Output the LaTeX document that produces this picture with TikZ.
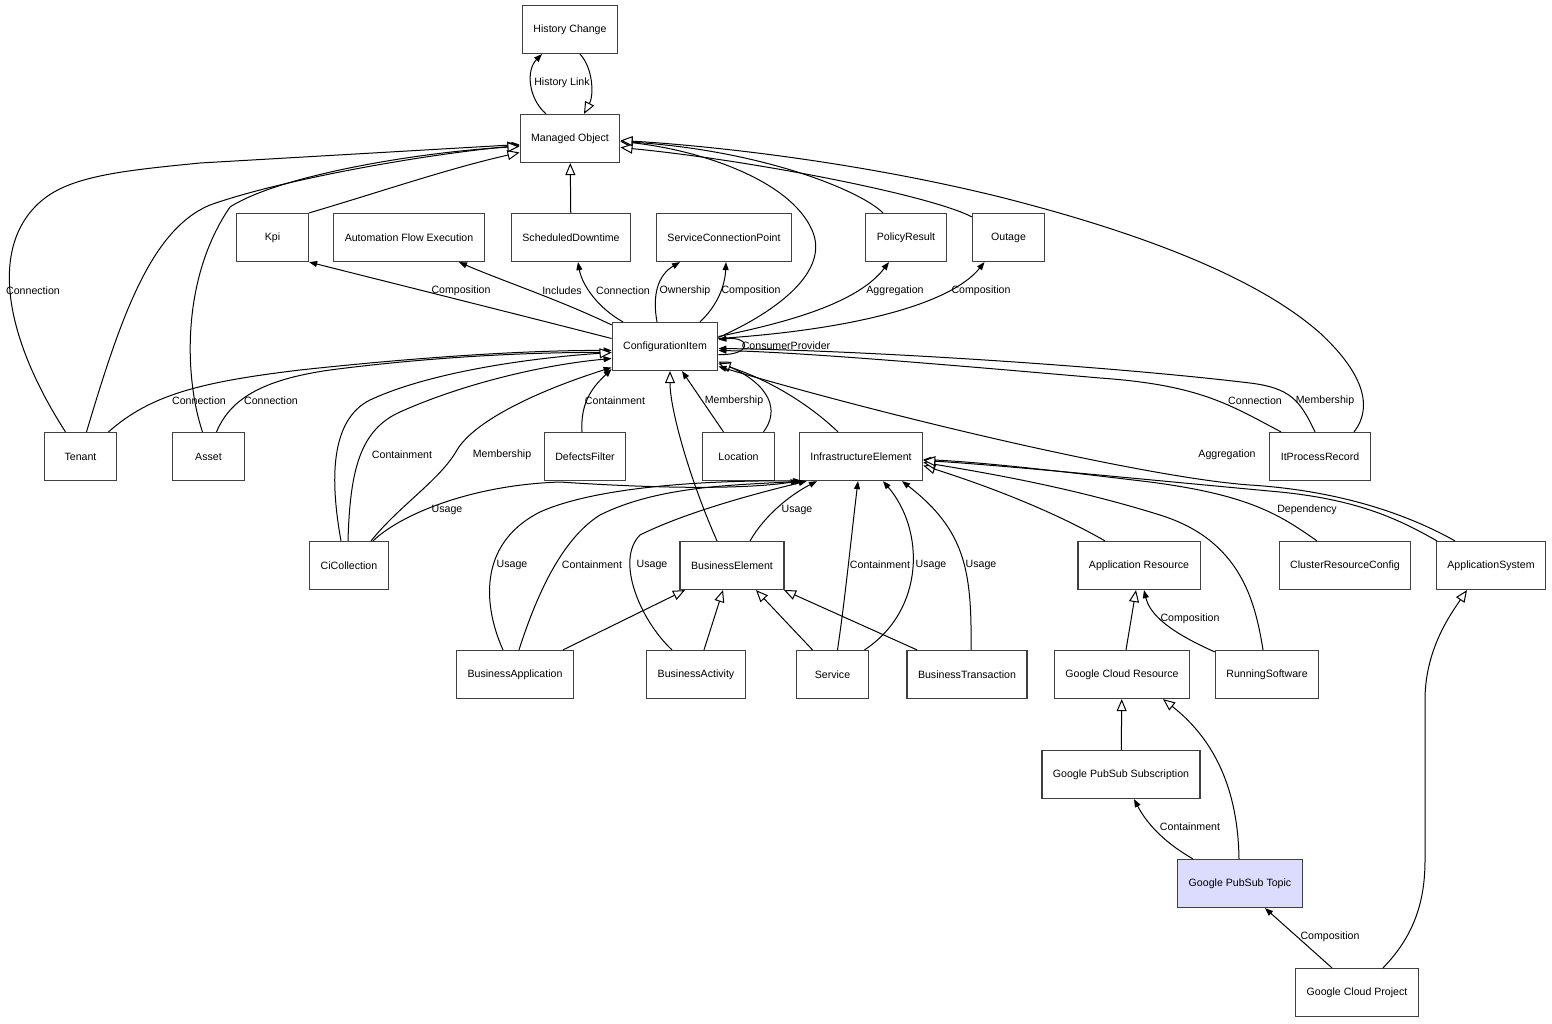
\documentclass[tikz,border=0pt]{standalone}
\usepackage{fontspec}
\setmainfont{Liberation Sans}
\usepackage{tikz}
\usetikzlibrary{arrows.meta}
\definecolor{topicfill}{RGB}{220,220,254}
\tikzstyle{block} = [rectangle, draw=black!75, line width=1.2pt, 
    minimum width=72pt, minimum height=48pt, inner xsep=11pt, font=\fontsize{10.6}{12}\selectfont]
\tikzstyle{lbl} = [inner sep=1pt, font=\fontsize{10.6}{12}\selectfont]
\tikzstyle{assoc} = [draw, line width=1pt, -{Triangle[length=8pt,width=6pt]}]
\tikzstyle{inherit} = [draw, line width=1pt, -{Triangle[length=12pt,width=10pt,fill=white]}]

\begin{document}
\begin{tikzpicture}[x=1pt,y=-1pt]
    \useasboundingbox (0,0) rectangle (1552,1023);
    % Place nodes
    \node [block] (hc) at (570,29.5) {History Change};
    \node [block] (mo) at (570,138.5) {Managed Object};
    \node [block] (kpi) at (272.5,237.5) {Kpi};
    \node [block] (afe) at (409,237.5) {Automation Flow Execution};
    \node [block] (sd) at (571,237.5) {ScheduledDowntime};
    \node [block] (scp) at (724,237.5) {ServiceConnectionPoint};
    \node [block] (pr) at (906,237.5) {PolicyResult};
    \node [block] (outage) at (1008.5,237.5) {Outage};
    \node [block] (ci) at (665,346.5) {ConfigurationItem};
    \node [block] (tenant) at (80.5,456.5) {Tenant};
    \node [block] (asset) at (208.5,456.5) {Asset};
    \node [block] (df) at (585,456.5) {DefectsFilter};
    \node [block] (loc) at (738.5,456.5) {Location};
    \node [block] (ie) at (861,456.5) {InfrastructureElement};
    \node [block] (ipr) at (1320,456.5) {ItProcessRecord};
    \node [block] (cic) at (349,565.5) {CiCollection};
    \node [block] (be) at (732,565.5) {BusinessElement};
    \node [block] (ar) at (1139,565.5) {Application Resource};
    \node [block] (crc) at (1345,565.5) {ClusterResourceConfig};
    \node [block] (appsys) at (1491,565.5) {ApplicationSystem};
    \node [block] (ba) at (515,674.5) {BusinessApplication};
    \node [block] (bact) at (696,674.5) {BusinessActivity};
    \node [block] (svc) at (832.5,674.5) {Service};
    \node [block] (bt) at (967,674.5) {BusinessTransaction};
    \node [block] (gcr) at (1122,674.5) {Google Cloud Resource};
    \node [block] (rs) at (1267,674.5) {RunningSoftware};
    \node [block] (gpss) at (1121,774.5) {Google PubSub Subscription};
    \node [block, fill=topicfill] (gpst) at (1240,883.5) {Google PubSub Topic};
    \node [block] (gcp) at (1357,992.5) {Google Cloud Project};
    % Draw edges round Managed Object
    \path [assoc] ([xshift=-24pt]mo.north) .. controls (528,98) and (526,70) .. ([xshift=-28pt]hc.south)
        node [lbl] (lHist) at (562,83) {History Link};
    \path [inherit] ([xshift=10pt]hc.south) .. controls (593,68) and (594,95) .. ([xshift=14pt]mo.north);
    \path [inherit] (sd) -- (mo);
    \path [inherit] (kpi.north east) .. controls (380,192) and (450,168) .. ([yshift=-14pt]mo.west);
    \path [assoc] ([xshift=-15pt]tenant.north) .. controls (0,330) and (-10,240) .. (45,198)
        .. controls (75,175) and (130,170) .. (200,163) -- ([yshift=-6pt]mo.west)
        node [lbl] (lConnTen) at (33,291) {Connection};
    \path [inherit] ([xshift=6pt]tenant.north) .. controls (120,320) and (150,230) .. (210,205)
        .. controls (280,180) and (420,155) .. ([yshift=-7pt]mo.west);
    \path [inherit] ([xshift=-6pt]asset.north) .. controls (185,380) and (180,280) .. (230,207)
        .. controls (280,175) and (420,152) .. ([yshift=-8pt]mo.west);
    \path [inherit] ([yshift=9pt]ci.east) .. controls (780,310) and (830,270) .. (812,230)
        .. controls (790,180) and (700,150) .. ([yshift=-3pt]mo.east);
    \path [inherit] ([xshift=-23pt]pr.north) .. controls (860,190) and (760,150) .. ([yshift=-3pt]mo.east);
    \path [inherit] ([yshift=-4pt]outage.north west) .. controls (930,195) and (750,160) .. ([yshift=-9pt]mo.east);
    \path [inherit] ([xshift=34pt]ipr.north) .. controls (1375,405) and (1360,370) .. (1320,333)
        .. controls (1260,280) and (1150,235) .. (1000,197)
        .. controls (850,160) and (700,145) .. ([yshift=-2pt]mo.east);
    % Draw edges from ConfigurationItem upwards
    \path [assoc] ([yshift=8pt]ci.west) .. controls (520,315) and (400,285) .. (kpi.south east)
        node [lbl] (lCompKpi) at (461,291) {Composition};
    \path [assoc] ([yshift=-3pt]ci.north west) .. controls (560,300) and (500,280) .. ([xshift=50pt]afe.south)
        node [lbl] (lIncl) at (562,291) {Includes};
    \path [assoc] ([xshift=-42pt]ci.north) .. controls (598,308) and (582,285) .. ([xshift=7pt]sd.south)
        node [lbl] (lConnSd) at (623,291) {Connection};
    \path [assoc] ([xshift=-8pt]ci.north) .. controls (652,295) and (658,275) .. ([xshift=-44pt]scp.south)
        node [lbl] (lOwn) at (685,291) {Ownership};
    \path [assoc] ([xshift=35pt]ci.north) .. controls (718,305) and (725,285) .. ([xshift=2pt]scp.south)
        node [lbl] (lCompScp) at (751,291) {Composition};
    \path [assoc] ([yshift=10pt]ci.east) .. controls (800,320) and (860,300) .. ([xshift=-17pt]pr.south)
        node [lbl] (lAggPr) at (895,291) {Aggregation};
    \path [assoc] ([yshift=8pt]ci.east) .. controls (850,330) and (950,305) .. ([xshift=-24pt]outage.south)
        node [lbl] (lCompOut) at (981,291) {Composition};
    \path [assoc] ([yshift=-8pt]ci.east) .. controls (752,356) and (752,336) .. ([yshift=7pt]ci.east)
        node [lbl] (lConsProv) at (786,346) {ConsumerProvider};
    % Draw edges into ConfigurationItem
    \path [assoc] ([xshift=28pt]tenant.north) .. controls (150,395) and (200,382) .. (300,370)
        .. controls (420,357) and (530,350) .. ([yshift=-4pt]ci.west)
        node [lbl] (lConnTenCi) at (199,401) {Connection};
    \path [assoc] ([xshift=8pt]asset.north) .. controls (230,400) and (260,380) .. (330,370)
        .. controls (430,357) and (530,352) .. ([yshift=-6pt]ci.west)
        node [lbl] (lConnAsset) at (271,401) {Connection};
    \path [inherit] ([xshift=-8pt]cic.north) .. controls (330,480) and (330,420) .. (370,400)
        .. controls (430,372) and (530,358) .. ([yshift=-6pt]ci.west);
    \path [assoc] ([xshift=-1pt]cic.north) .. controls (350,470) and (360,430) .. (400,412)
        .. controls (460,385) and (540,365) .. ([yshift=-12pt]ci.west)
        node [lbl] (lContCic) at (402,455) {Containment};
    \path [assoc] ([xshift=22pt]cic.north) .. controls (400,505) and (440,480) .. (457,450)
        .. controls (475,420) and (540,390) .. ([yshift=-21pt]ci.west)
        node [lbl] (lMembCic) at (502,455) {Membership};
    \path [assoc] ([xshift=-3pt]df.north) .. controls (580,400) and (595,385) .. ([yshift=2pt]ci.south west)
        node [lbl] (lContDf) at (615,401) {Containment};
    \path [assoc] ([xshift=-15pt]loc.north) -- ([xshift=17pt]ci.south)
        node [lbl] (lMembLoc) at (734,401) {Membership};
    \path [inherit] ([xshift=25pt]loc.north) .. controls (780,410) and (770,385) .. ([yshift=-15pt]ci.east);
    \path [inherit] ([xshift=-15pt]be.north) .. controls (690,480) and (670,410) .. ([xshift=5pt]ci.south);
    \path [inherit] ([xshift=-23pt]ie.north) .. controls (810,405) and (770,380) .. ([yshift=-17pt]ci.east);
    \path [assoc] ([xshift=-36pt]appsys.north) .. controls (1400,510) and (1330,490) .. (1250,485)
        .. controls (1150,478) and (900,420) .. ([yshift=-20pt]ci.east)
        node [lbl] (lAggSys) at (1227,455) {Aggregation};
    \path [assoc] ([xshift=-39pt]ipr.north) .. controls (1230,405) and (1200,385) .. (1100,378)
        .. controls (950,365) and (800,352) .. ([yshift=-4pt]ci.east)
        node [lbl] (lConnIpr) at (1255,401) {Connection};
    \path [assoc] ([xshift=-5pt]ipr.north) .. controls (1300,400) and (1290,388) .. (1250,383)
        .. controls (1100,365) and (850,350) .. ([yshift=-2pt]ci.east)
        node [lbl] (lMembIpr) at (1325,401) {Membership};
    % Draw edges into InfrastructureElement
    \path [inherit] ([xshift=-34pt]ar.north) .. controls (1060,515) and (1000,490) .. ([yshift=-9pt]ie.east);
    \path [inherit] ([xshift=-4pt]rs.north) .. controls (1255,600) and (1240,540) .. (1160,515)
        .. controls (1080,490) and (1000,475) .. ([yshift=-6pt]ie.east);
    \path [assoc] ([xshift=-28pt]crc.north) .. controls (1280,515) and (1250,495) .. (1150,482)
        .. controls (1050,470) and (980,462) .. ([yshift=-3pt]ie.east)
        node [lbl] (lDep) at (1307,510) {Dependency};
    \path [inherit] ([xshift=-54pt]appsys.north) .. controls (1400,520) and (1360,500) .. (1280,492)
        .. controls (1150,480) and (1000,465) .. ([yshift=-4pt]ie.east);
    \path [assoc] ([xshift=24pt]cic.north) .. controls (400,515) and (470,485) .. (560,482)
        .. controls (650,488) and (740,490) .. (ie.south west)
        node [lbl] (lUseCic) at (447,510) {Usage};
    \path [assoc] ([xshift=-12pt]ba.north) .. controls (485,610) and (475,545) .. (540,512)
        .. controls (600,485) and (720,480) .. ([xshift=2pt]ie.south west)
        node [lbl] (lUseBa) at (512,565) {Usage};
    \path [assoc] ([xshift=4pt]ba.north) .. controls (535,600) and (560,540) .. (600,515)
        .. controls (660,485) and (740,485) .. ([xshift=4pt]ie.south west)
        node [lbl] (lContBa) at (592,565) {Containment};
    \path [assoc] ([xshift=-24pt]bact.north) .. controls (640,620) and (615,560) .. (640,535)
        .. controls (690,510) and (770,490) .. ([xshift=8pt]ie.south west)
        node [lbl] (lUseBact) at (652,565) {Usage};
    \path [assoc] ([xshift=18pt]be.north) .. controls (765,515) and (790,495) .. ([xshift=-44pt]ie.south)
        node [lbl] (lUseBe) at (797,510) {Usage};
    \path [assoc] ([xshift=5pt]svc.north) .. controls (845,600) and (852,530) .. ([xshift=-3pt]ie.south)
        node [lbl] (lContSvc) at (880,565) {Containment};
    \path [assoc] ([xshift=32pt]svc.north) .. controls (925,610) and (925,530) .. ([xshift=22pt]ie.south)
        node [lbl] (lUseSvc) at (931,565) {Usage};
    \path [assoc] ([xshift=4pt]bt.north) .. controls (972,570) and (965,530) .. ([xshift=41pt]ie.south)
        node [lbl] (lUseBt) at (981,565) {Usage};
    % Draw edges into BusinessElement
    \path [inherit] ([xshift=48pt]ba.north) -- ([xshift=-47pt]be.south);
    \path [inherit] ([xshift=8pt]bact.north) -- ([xshift=-9pt]be.south);
    \path [inherit] ([xshift=-20pt]svc.north) -- ([xshift=24pt]be.south);
    \path [inherit] ([xshift=-50pt]bt.north) -- ([xshift=52pt]be.south);
    % Draw edges of the Google part
    \path [inherit] ([xshift=4pt]gcr.north) -- ([xshift=-3pt]ar.south);
    \path [assoc] ([yshift=-2pt]rs.north west) .. controls (1170,632) and (1150,615) .. ([xshift=5pt]ar.south)
        node [lbl] (lCompRs) at (1190,619) {Composition};
    \path [inherit] ([xshift=26pt]gcp.north) .. controls (1415,935) and (1425,900) .. (1425,860)
        -- (1425,700) .. controls (1425,650) and (1450,615) .. ([xshift=-24pt]appsys.south);
    \path [inherit] (gpss) -- (gcr);
    \path [inherit] ([xshift=-1pt]gpst.north) .. controls (1238,790) and (1215,740) .. ([xshift=41pt]gcr.south);
    \path [assoc] ([xshift=-47pt]gpst.north) .. controls (1160,840) and (1145,820) .. ([xshift=13pt]gpss.south)
        node [lbl] (lContGp) at (1190,827) {Containment};
    \path [assoc] ([xshift=-25pt]gcp.north) -- ([xshift=25pt]gpst.south)
        node [lbl] (lCompGcp) at (1330,937) {Composition};
\end{tikzpicture}
\end{document}
